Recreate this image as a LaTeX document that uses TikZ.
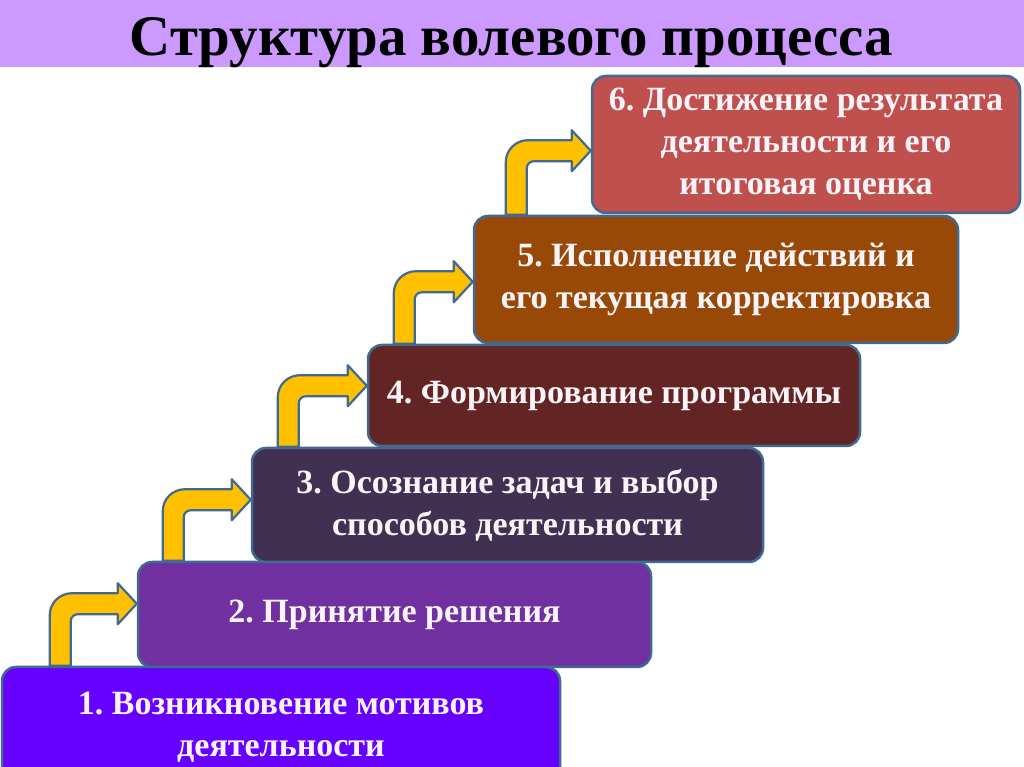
\documentclass[tikz,border=0pt]{standalone}
\usepackage{fontspec}
\setmainfont{Liberation Serif}
\usetikzlibrary{calc}
\frenchspacing
\definecolor{titlebg}{RGB}{204,153,255}
\definecolor{edge}{RGB}{65,105,145}
\definecolor{arrowfill}{RGB}{255,192,0}
\definecolor{cone}{RGB}{102,0,255}
\definecolor{ctwo}{RGB}{112,48,160}
\definecolor{cthree}{RGB}{64,49,82}
\definecolor{cfour}{RGB}{99,37,35}
\definecolor{cfive}{RGB}{152,72,7}
\definecolor{csix}{RGB}{192,80,77}
\definecolor{boxtext}{RGB}{250,244,248}
\newcommand\bentarrow[4]{% #1 from, #2 to, #3 shaft offset from tip, #4 rise
  \draw[barrow] let \p1=(#1.north), \p2=(#2.west) in
    (\x2-#3pt, \y1) -- (\x2-#3pt, \y1+#4pt+10.5pt-22pt)
    arc[start angle=180, end angle=90, radius=22pt]
    -- (\x2-19pt, \y1+#4pt+10.5pt) -- (\x2-19pt, \y1+#4pt+20.5pt)
    -- (\x2, \y1+#4pt)
    -- (\x2-19pt, \y1+#4pt-20.5pt) -- (\x2-19pt, \y1+#4pt-10.5pt)
    -- (\x2-#3pt+28pt, \y1+#4pt-10.5pt)
    arc[start angle=90, end angle=180, radius=7pt]
    -- (\x2-#3pt+21pt, \y1) -- cycle;}
\begin{document}
\begin{tikzpicture}[x=1pt,y=1pt,
  stepbox/.style={draw=edge, line width=2.5pt, rounded corners=14pt,
    text=boxtext, align=center, inner sep=0pt,
    font=\fontsize{34}{42}\selectfont\bfseries},
  barrow/.style={fill=arrowfill, draw=edge, line width=2.2pt, line join=round}]
\useasboundingbox (0,0) rectangle (1024,767);
\clip (0,0) rectangle (1024,767);
\fill[white] (0,0) rectangle (1024,767);
\node[fill=titlebg, minimum width=1024pt, minimum height=67pt, inner sep=0pt,
  anchor=north west] (titlebar) at (0,767) {};
\node[anchor=base, inner sep=0pt] (title) at (511.5,711)
  {\resizebox{763pt}{38pt}{\bfseries Структура волевого процесса}};
% boxes
\node[stepbox, fill=cone, minimum width=558pt, minimum height=120pt] (s1) at (281,40)
  {1. Возникновение мотивов\\деятельности};
\node[stepbox, fill=ctwo, minimum width=513pt, minimum height=105pt] (s2) at (394.5,152.5)
  {2. Принятие решения};
\node[stepbox, fill=cthree, minimum width=511pt, minimum height=114pt] (s3) at (507.5,262)
  {3. Осознание задач и выбор\\способов деятельности};
\node[stepbox, fill=cfour, minimum width=492pt, minimum height=101pt] (s4) at (614,371.5)
  {4. Формирование программы};
\node[stepbox, fill=cfive, minimum width=484pt, minimum height=127pt] (s5) at (716,487.5)
  {5. Исполнение действий и\\его текущая корректировка};
\node[stepbox, fill=csix, minimum width=428pt, minimum height=137pt] (s6) at (806,622.5)
  {6. Достижение результата\\деятельности и его\\итоговая оценка};
% arrows
\bentarrow{s1}{s2}{87}{62}
\bentarrow{s2}{s3}{88}{61}
\bentarrow{s3}{s4}{89}{61}
\bentarrow{s4}{s5}{79}{62}
\bentarrow{s5}{s6}{85}{64}
\end{tikzpicture}
\end{document}
